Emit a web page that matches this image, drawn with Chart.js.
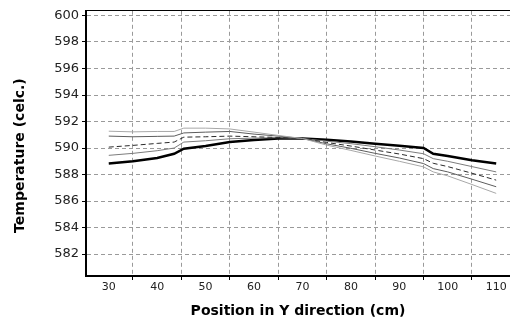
<!DOCTYPE html>
<html>
<head>
<meta charset="utf-8">
<script src="https://cdn.jsdelivr.net/npm/chart.js@4.4.1/dist/chart.umd.min.js"></script>
<style>
    html, body { margin: 0; padding: 0; background: #fff; }
    #tempChart { display: block; }
</style>
</head>
<body>
<canvas id="tempChart" width="510" height="322"></canvas>
<script>
// positions along Y (cm)
const positions = [30, 35, 40, 43.5, 45.5, 50, 55, 60, 65, 70, 75, 80, 85, 90, 95, 97, 100, 105, 110];

// temperature profiles (celc.)
const lightGray = [591.27, 591.22, 591.25, 591.25, 591.5, 591.5, 591.44, 591.2, 590.95, 590.72, 590.22, 589.82, 589.4, 589.0, 588.58, 588.2, 587.9, 587.25, 586.58];
const darkGray = [590.9, 590.85, 590.88, 590.9, 591.14, 591.2, 591.25, 591.05, 590.9, 590.72, 590.32, 589.98, 589.6, 589.25, 588.83, 588.45, 588.2, 587.65, 587.08];
const dashed = [590.07, 590.2, 590.35, 590.45, 590.82, 590.85, 590.9, 590.85, 590.8, 590.72, 590.42, 590.15, 589.85, 589.55, 589.2, 588.85, 588.6, 588.1, 587.58];
const midGray = [589.45, 589.6, 589.8, 590.0, 590.45, 590.55, 590.7, 590.75, 590.78, 590.72, 590.52, 590.33, 590.1, 589.85, 589.57, 589.2, 589.0, 588.6, 588.2];
const black = [588.83, 589.0, 589.25, 589.57, 589.95, 590.15, 590.45, 590.6, 590.72, 590.72, 590.62, 590.5, 590.32, 590.17, 590.0, 589.57, 589.4, 589.08, 588.83];

// axis ticks
const xTicks = [30, 35, 40, 45, 50, 55, 60, 65, 70, 75, 80, 85, 90, 95, 100, 105, 110];
const yTicks = [582, 584, 586, 588, 590, 592, 594, 596, 598, 600];

function toPoints(values) {
    return values.map((v, i) => ({ x: positions[i], y: v }));
}

// grid lines only sit between the labelled ticks
const isGridTick = (v) => v % 10 === 5;

const ctx = document.getElementById("tempChart");
const chart = new Chart(ctx, {
    type: "line",
    data: {
        datasets: [
            { data: toPoints(lightGray), borderColor: "#a8a8a8", borderWidth: 1 },
            { data: toPoints(darkGray), borderColor: "#5c5c5c", borderWidth: 1 },
            { data: toPoints(dashed), borderColor: "#2a2a2a", borderWidth: 1, borderDash: [5, 3] },
            { data: toPoints(midGray), borderColor: "#7c7c7c", borderWidth: 1 },
            { data: toPoints(black), borderColor: "#000", borderWidth: 2.5 },
        ],
    },
    options: {
        responsive: false,
        animation: false,
        devicePixelRatio: 1,
        layout: { padding: 0 },
        elements: {
            point: { radius: 0, hoverRadius: 0 },
            line: { tension: 0, fill: false },
        },
        plugins: {
            legend: { display: false },
            tooltip: { enabled: false },
        },
        scales: {
            x: {
                type: "linear",
                position: "bottom",
                min: 25.3,
                max: 112.85,
                afterBuildTicks: (s) => {
                    s.ticks = xTicks.map((v) => ({ value: v }));
                },
                afterFit: (s) => {
                    s.height = 46;
                },
                ticks: {
                    autoSkip: false,
                    maxRotation: 0,
                    padding: 1,
                    color: "#222",
                    font: { family: "DejaVu Sans", size: 11 },
                    callback: (v) => (v % 10 === 0 ? String(v) : ""),
                },
                grid: {
                    color: (c) => (c.tick && isGridTick(c.tick.value) ? "#9a9a9a" : "transparent"),
                    tickColor: (c) => (c.tick && isGridTick(c.tick.value) ? "#000" : "transparent"),
                    tickLength: 4,
                    lineWidth: 1,
                },
                border: { color: "#000", width: 2, dash: [4, 3] },
                title: {
                    display: true,
                    text: "Position in Y direction (cm)",
                    color: "#000",
                    font: { family: "DejaVu Sans", size: 14, weight: "bold" },
                    padding: { top: 0, bottom: 2 },
                },
            },
            top: {
                type: "linear",
                position: "top",
                min: 0,
                max: 1,
                afterFit: (s) => {
                    s.height = 9;
                },
                ticks: { display: false },
                grid: { display: false, drawTicks: false },
                border: { color: "#000", width: 1 },
            },
            y: {
                type: "linear",
                min: 580.35,
                max: 600.35,
                afterBuildTicks: (s) => {
                    s.ticks = yTicks.map((v) => ({ value: v }));
                },
                afterFit: (s) => {
                    s.width = 86;
                },
                ticks: {
                    padding: 3,
                    color: "#222",
                    font: { family: "DejaVu Sans", size: 13 },
                },
                grid: {
                    color: "#9a9a9a",
                    tickColor: "#000",
                    tickLength: 4,
                    lineWidth: 1,
                },
                border: { color: "#000", width: 2, dash: [4, 3] },
                title: {
                    display: true,
                    text: "Temperature (celc.)     ",
                    color: "#000",
                    font: { family: "DejaVu Sans", size: 14, weight: "bold" },
                    padding: { top: 12, bottom: 0 },
                },
            },
        },
    },
});
</script>
</body>
</html>
